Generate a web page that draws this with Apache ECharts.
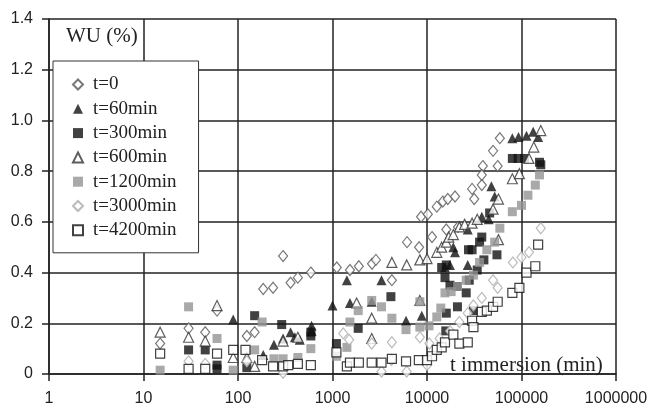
<!DOCTYPE html>
<html>
<head>
<meta charset="utf-8">
<script src="https://cdn.jsdelivr.net/npm/echarts@6/dist/echarts.min.js"></script>
<style>html,body{margin:0;padding:0;background:#fff}#chart{width:651px;height:409px}</style>
</head>
<body>
<div id="chart"></div>
<script>
// WU (%) vs immersion time, one array per pre-treatment time
const seriesNames = ['t=0', 't=60min', 't=300min', 't=600min', 't=1200min', 't=3000min', 't=4200min'];
const xTicks = [1, 10, 100, 1000, 10000, 100000, 1000000];

const t0 = [[15,0.12],[30,0.18],[45,0.165],[60,0.25],[124,0.15],[150,0.165],[185,0.335],[235,0.34],[300,0.465],[360,0.36],[430,0.38],[590,0.40],
  [1110,0.42],[1530,0.41],[1900,0.425],[2620,0.435],[2880,0.45],[4250,0.37],[6150,0.52],[8250,0.50],[8650,0.62],[10200,0.63],[11300,0.54],
  [12700,0.66],[14700,0.68],[16600,0.69],[19800,0.70],[16000,0.57],[21300,0.58],[30000,0.73],[31600,0.69],[38000,0.745],[39000,0.82],
  [38000,0.785],[50000,0.88],[56000,0.82],[59000,0.93]];
const t60 = [[89,0.215],[185,0.075],[240,0.115],[300,0.14],[360,0.165],[400,0.145],[450,0.135],[600,0.19],[600,0.17],
  [1000,0.27],[1420,0.37],[1530,0.28],[2600,0.285],[3300,0.37],[6000,0.21],[8800,0.23],[15500,0.42],[17500,0.43],[19000,0.50],
  [19800,0.48],[27000,0.43],[27000,0.57],[38000,0.62],[45000,0.61],[48000,0.74],[52000,0.70],[80000,0.93],[93000,0.935],
  [113000,0.94],[133000,0.955],[150000,0.935]];
const t300 = [[30,0.095],[45,0.095],[60,0.035],[60,0.02],[124,0.025],[150,0.23],[290,0.195],[590,0.15],[590,0.165],
  [1100,0.12],[1870,0.18],[4150,0.305],[14300,0.42],[15500,0.38],[15800,0.17],[16000,0.24],[16000,0.43],[17500,0.35],[20800,0.345],
  [21000,0.265],[26000,0.32],[27500,0.49],[28000,0.37],[30000,0.49],[31000,0.25],[34000,0.41],[36000,0.52],[38000,0.54],[40000,0.45],
  [46000,0.635],[55000,0.47],[80000,0.85],[92000,0.85],[108000,0.85],[155000,0.835],[160000,0.825]];
const t600 = [[15,0.165],[30,0.145],[45,0.13],[60,0.27],[89,0.065],[124,0.065],[150,0.03],[300,0.13],[430,0.145],
  [1800,0.28],[2600,0.22],[2600,0.14],[4250,0.44],[6100,0.43],[8400,0.45],[8400,0.29],[10000,0.455],[12700,0.48],[14300,0.50],
  [16000,0.52],[17000,0.54],[19000,0.55],[22000,0.58],[25000,0.59],[30000,0.595],[34000,0.61],[50000,0.65],[57000,0.69],
  [57000,0.53],[80000,0.77],[95000,0.79],[120000,0.85],[135000,0.895],[160000,0.96]];
const t1200 = [[15,0.015],[30,0.265],[60,0.14],[89,0.015],[150,0.095],[180,0.205],[240,0.06],[300,0.06],[430,0.065],[590,0.10],
  [1100,0.07],[1420,0.105],[1530,0.205],[1870,0.25],[2600,0.29],[3300,0.265],[4250,0.22],[6000,0.175],[8400,0.285],[8400,0.185],
  [10500,0.19],[12700,0.225],[14000,0.26],[15500,0.32],[18000,0.325],[21000,0.345],[26000,0.37],[31000,0.39],[36000,0.44],
  [43000,0.49],[52000,0.52],[59000,0.575],[80000,0.64],[100000,0.665],[117000,0.705],[140000,0.745],[155000,0.785]];
const t3000 = [[30,0.05],[45,0.04],[124,0.05],[300,0.005],[1300,0.16],[1500,0.135],[2600,0.12],[3300,0.01],[4200,0.055],[4250,0.125],
  [6100,0.01],[8400,0.145],[10000,0.035],[10600,0.12],[13600,0.14],[17500,0.17],[22000,0.205],[27000,0.24],[31000,0.27],
  [38000,0.30],[50000,0.37],[56000,0.34],[81000,0.44],[100000,0.46],[120000,0.48],[160000,0.575]];
const t4200 = [[15,0.08],[30,0.02],[45,0.02],[60,0.08],[89,0.095],[120,0.095],[180,0.055],[235,0.03],[300,0.03],[340,0.035],[430,0.04],[590,0.035],
  [1100,0.085],[1420,0.03],[1530,0.045],[1900,0.045],[2600,0.045],[3300,0.045],[4250,0.06],[6000,0.05],[8200,0.055],[10000,0.055],
  [11300,0.07],[12700,0.095],[14300,0.105],[15500,0.125],[19000,0.155],[22000,0.12],[27000,0.125],[30000,0.21],[31000,0.185],
  [38000,0.245],[43000,0.25],[50000,0.265],[56000,0.285],[80000,0.32],[95000,0.34],[113000,0.40],[140000,0.425],[150000,0.51]];

const serif = '"Liberation Serif", "DejaVu Serif", serif';
const sans = '"Liberation Sans", Arial, sans-serif';
const lineCol = '#222';

const styles = [
  {data: t0,    symbol: 'diamond',  size: [9, 11], item: {color: '#fff', borderColor: '#555', borderWidth: 1.2}},
  {data: t60,   symbol: 'triangle', size: 10,      item: {color: '#111'}},
  {data: t300,  symbol: 'rect',     size: 9,       item: {color: '#111'}},
  {data: t600,  symbol: 'triangle', size: 10,      item: {color: '#fff', borderColor: '#333', borderWidth: 1.2}},
  {data: t1200, symbol: 'rect',     size: 9,       item: {color: '#939393'}},
  {data: t3000, symbol: 'diamond',  size: [9, 11], item: {color: '#fff', borderColor: '#aaa', borderWidth: 1.2}},
  {data: t4200, symbol: 'rect',     size: 9,       item: {color: '#fff', borderColor: '#111', borderWidth: 1.2}}
];

const chart = echarts.init(document.getElementById('chart'), null, {renderer: 'canvas'});
chart.setOption({
  animation: false,
  backgroundColor: '#fff',
  grid: {left: 49, right: 35, top: 19, bottom: 35},
  xAxis: {
    type: 'log', logBase: 10, min: xTicks[0], max: xTicks[xTicks.length - 1],
    axisLine: {show: true, lineStyle: {color: lineCol, width: 1.5}},
    axisTick: {show: true, length: 7, lineStyle: {color: lineCol, width: 1.5}},
    minorTick: {show: false},
    axisLabel: {color: '#222', fontFamily: sans, fontSize: 16, margin: 17, formatter: v => String(Math.round(v))},
    splitLine: {show: true, lineStyle: {color: lineCol, width: 1.5}}
  },
  yAxis: {
    type: 'value', min: 0, max: 1.4, interval: 0.2,
    axisLine: {show: true, lineStyle: {color: lineCol, width: 1.5}},
    axisTick: {show: true, length: 7, lineStyle: {color: lineCol, width: 1.5}},
    axisLabel: {color: '#222', fontFamily: sans, fontSize: 16, margin: 16, formatter: v => v === 0 ? '0' : v.toFixed(1)},
    splitLine: {show: true, lineStyle: {color: lineCol, width: 1.5}}
  },
  legend: {
    orient: 'vertical', left: 53, top: 61,
    backgroundColor: '#fff', borderColor: '#333', borderWidth: 1,
    padding: [14, 22, 13, 19],
    itemWidth: 10, itemHeight: 10, itemGap: 5.3,
    textStyle: {fontFamily: serif, fontSize: 19, lineHeight: 19, color: '#222', padding: [0, 0, 0, 5]},
    data: seriesNames
  },
  graphic: [
    {type: 'text', left: 66, top: 26, style: {text: 'WU (%)', font: '21px ' + serif, fill: '#222'}},
    {type: 'text', left: 450, top: 355, z: 100, style: {text: 't immersion (min)', font: '21px ' + serif, fill: '#222'}}
  ],
  series: styles.map((s, i) => ({
    name: seriesNames[i], type: 'scatter', data: s.data,
    symbol: s.symbol, symbolSize: s.size, itemStyle: s.item
  }))
});
</script>
</body>
</html>
